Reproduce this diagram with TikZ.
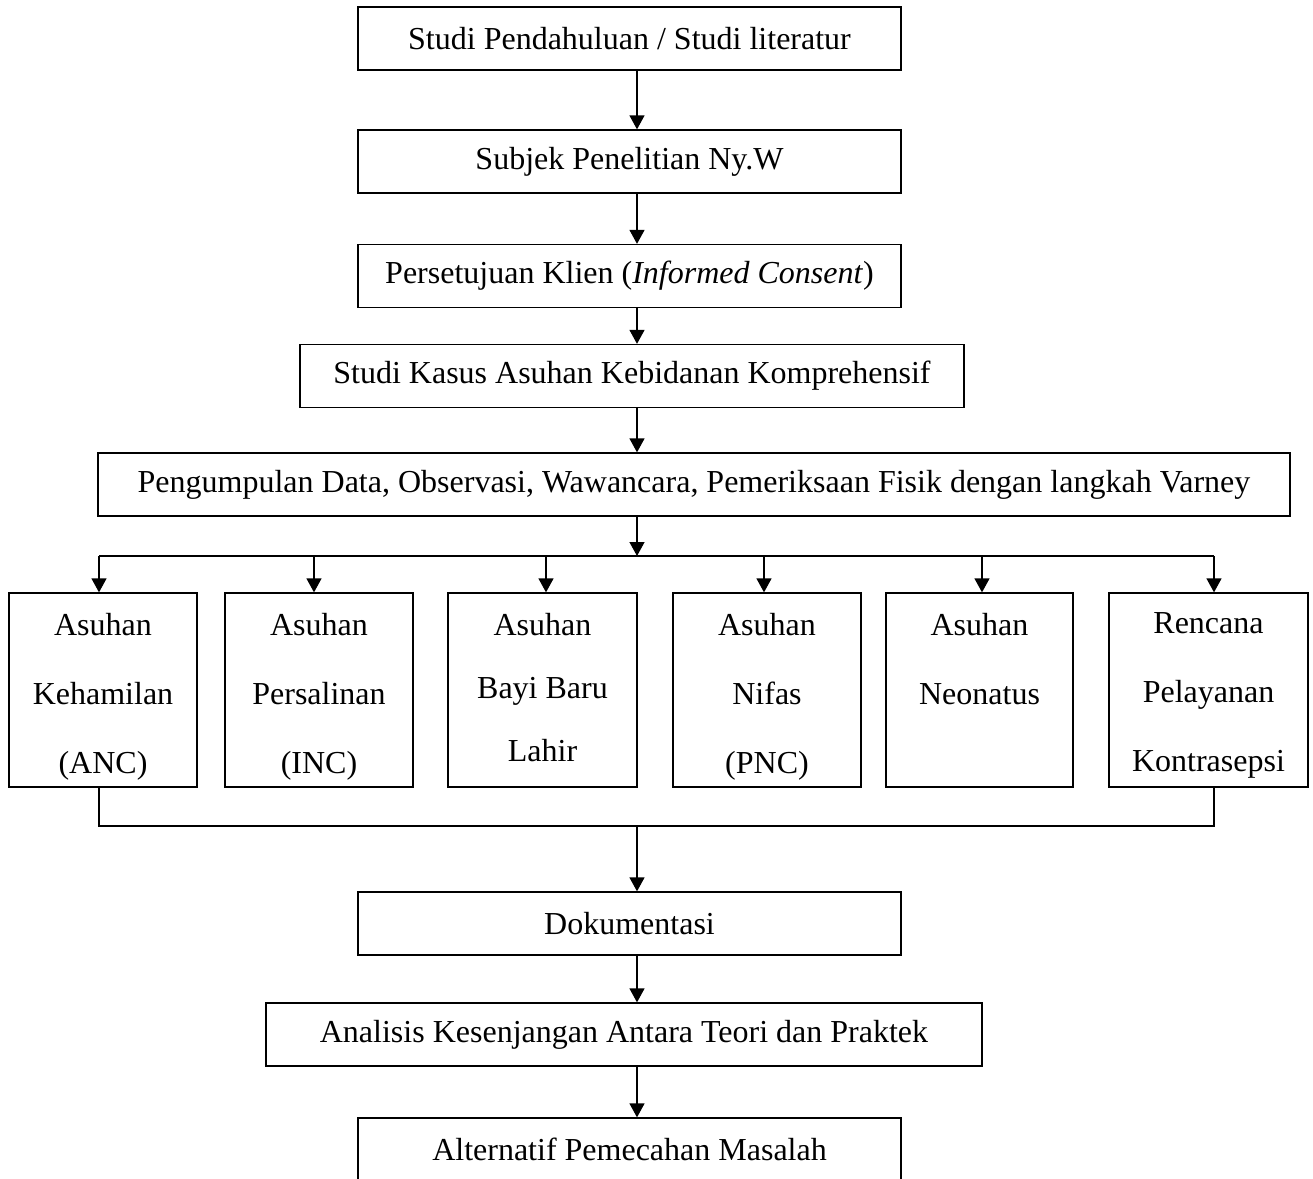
\documentclass[tikz,border=0pt]{standalone}
\usepackage{fontspec}
\setmainfont{Liberation Serif}
\usetikzlibrary{arrows.meta}
\newcommand{\mystack}[2]{\parbox[c][154pt][t]{184pt}{\centering\fontsize{32}{#1}\selectfont #2\par}}
\begin{document}
\begin{tikzpicture}[x=1pt,y=-1pt,
  every path/.style={line width=1.3pt},
  bigbox/.style={draw, line width=1.3pt, inner sep=0pt, minimum height=63pt, font=\fontsize{32}{38}\selectfont},
  smallbox/.style={draw, line width=1.3pt, inner sep=0pt, minimum height=194pt, minimum width=#1},
  arr/.style={-{Triangle[length=14pt,width=15pt]}}]
\useasboundingbox (0,0) rectangle (1313,1178);
\node[bigbox, minimum width=543pt] (b1) at (629.5,38.5) {Studi Pendahuluan / Studi literatur};
\node[bigbox, minimum width=543pt] (b2) at (629.5,161.5) {Subjek Penelitian Ny.W};
\node[bigbox, minimum width=543pt] (b3) at (629.5,276) {Persetujuan Klien (\textit{Informed Consent})};
\node[bigbox, minimum width=664pt] (b4) at (632,376) {Studi Kasus Asuhan Kebidanan Komprehensif};
\node[bigbox, minimum width=1192pt] (b5) at (694,484.5) {Pengumpulan Data, Observasi, Wawancara, Pemeriksaan Fisik dengan langkah Varney};
\node[smallbox=188pt] (sA) at (103,690) {\mystack{69}{Asuhan\\Kehamilan\\(ANC)}};
\node[smallbox=188pt] (sB) at (319,690) {\mystack{69}{Asuhan\\Persalinan\\(INC)}};
\node[smallbox=189pt] (sC) at (542.5,690) {\mystack{63}{Asuhan\\Bayi Baru\\Lahir}};
\node[smallbox=188pt] (sD) at (767,690) {\mystack{69}{Asuhan\\Nifas\\(PNC)}};
\node[smallbox=187pt] (sE) at (979.5,690) {\mystack{69}{Asuhan\\Neonatus}};
\node[smallbox=199pt] (sF) at (1208.5,690) {\mystack{69}{Rencana\\Pelayanan\\Kontrasepsi}};
\node[bigbox, minimum width=543pt] (dok) at (629.5,923.5) {Dokumentasi};
\node[bigbox, minimum width=716pt] (ana) at (624,1034.5) {Analisis Kesenjangan Antara Teori dan Praktek};
\node[bigbox, minimum width=543pt] (alt) at (629.5,1149.5) {Alternatif Pemecahan Masalah};
% coordinates
\coordinate (ax) at (637,0);
\coordinate (br) at (637,556);
\coordinate (brA) at (99,556);
\coordinate (brB) at (314,556);
\coordinate (brC) at (546,556);
\coordinate (brD) at (764,556);
\coordinate (brE) at (982,556);
\coordinate (brF) at (1214,556);
\coordinate (jA) at (99,826);
\coordinate (jF) at (1214,826);
\coordinate (jM) at (637,826);
% connectors
\draw[arr] (b1.south -| ax) -- (b2.north -| ax);
\draw[arr] (b2.south -| ax) -- (b3.north -| ax);
\draw[arr] (b3.south -| ax) -- (b4.north -| ax);
\draw[arr] (b4.south -| ax) -- (b5.north -| ax);
\draw[arr] (b5.south -| ax) -- (br);
\draw (brA) -- (brF);
\draw[arr] (brA) -- (sA.north -| brA);
\draw[arr] (brB) -- (sB.north -| brB);
\draw[arr] (brC) -- (sC.north -| brC);
\draw[arr] (brD) -- (sD.north -| brD);
\draw[arr] (brE) -- (sE.north -| brE);
\draw[arr] (brF) -- (sF.north -| brF);
\draw (sA.south -| jA) -- (jA) -- (jF) -- (sF.south -| jF);
\draw[arr] (jM) -- (dok.north -| jM);
\draw[arr] (dok.south -| ax) -- (ana.north -| ax);
\draw[arr] (ana.south -| ax) -- (alt.north -| ax);
\end{tikzpicture}
\end{document}
